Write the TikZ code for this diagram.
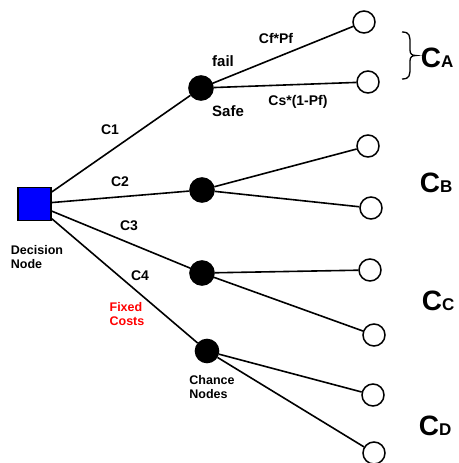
\documentclass[tikz,border=0pt]{standalone}
\usepackage{fontspec}
\setmainfont{Liberation Sans}
\begin{document}
\begin{tikzpicture}[x=1pt,y=-1pt,
  line width=1.6pt,
  decision/.style={draw=black,fill=blue,minimum size=33pt,inner sep=0pt,line width=1.8pt},
  chance/.style={circle,fill=black,draw=black,minimum size=24pt,inner sep=0pt},
  terminal/.style={circle,fill=white,draw=black,minimum size=22pt,inner sep=0pt,line width=1.5pt},
  lbl/.style={font=\fontsize{14}{16}\selectfont\bfseries,inner sep=0pt},
  small/.style={font=\fontsize{12.5}{14}\selectfont\bfseries,inner sep=0pt,align=left},
  big/.style={font=\fontsize{28}{30}\selectfont\bfseries,inner sep=0pt},
]
\useasboundingbox (0,0) rectangle (458,463);
\node[decision] (d) at (34.5,204) {};
\node[chance] (n1) at (201,88) {};
\node[chance] (n2) at (202,190) {};
\node[chance] (n3) at (202,273) {};
\node[chance,minimum size=23pt] (n4) at (207,351) {};
\node[terminal] (t1) at (364,22) {};
\node[terminal] (t2) at (368,82) {};
\node[terminal] (t3) at (368,146) {};
\node[terminal] (t4) at (371,208) {};
\node[terminal] (t5) at (370,270) {};
\node[terminal] (t6) at (374,335) {};
\node[terminal] (t7) at (373,395) {};
\node[terminal] (t8) at (374,453) {};
\draw (d) -- (n1);
\draw (d) -- (n2);
\draw (d) -- (n3);
\draw (d) -- (n4);
\draw (n1) -- (t1);
\draw (n1) -- (t2);
\draw (n2) -- (t3);
\draw (n2) -- (t4);
\draw (n3) -- (t5);
\draw (n3) -- (t6);
\draw (n4) -- (t7);
\draw (n4) -- (t8);
\node[lbl] (c1) at (110,130) {C1};
\node[lbl] (c2) at (120,182) {C2};
\node[lbl] (c3) at (129,226) {C3};
\node[lbl] (c4) at (140,276) {C4};
\node[lbl,font=\fontsize{15}{16}\selectfont\bfseries] (fail) at (223,61) {fail};
\node[lbl,font=\fontsize{15}{16}\selectfont\bfseries] (safe) at (228,111) {Safe};
\node[lbl] (cf) at (276,38) {Cf*Pf};
\node[lbl] (cs) at (298,102) {Cs*(1-Pf)};
\node[small,text=red] (fc) at (127,314) {Fixed\\Costs};
\node[small] (dn) at (37,257) {Decision\\Node};
\node[small] (cn) at (212,387) {Chance\\Nodes};
\draw[line width=1.3pt] (402,32) .. controls (410,32) and (410,36) .. (410,44) -- (410,50) .. controls (410,54) and (412,55.5) .. (416,55.5) .. controls (412,55.5) and (410,57) .. (410,61) -- (410,67) .. controls (410,75) and (410,79) .. (402,79);
\node[big,anchor=base west] (ca) at (420,67) {C\fontsize{17}{18}\selectfont A};
\node[big,anchor=base west] (cb) at (419,192) {C\fontsize{17}{18}\selectfont B};
\node[big,anchor=base west] (cc) at (421,310) {C\fontsize{17}{18}\selectfont C};
\node[big,anchor=base west] (cd) at (418,435) {C\fontsize{17}{18}\selectfont D};
\end{tikzpicture}
\end{document}
